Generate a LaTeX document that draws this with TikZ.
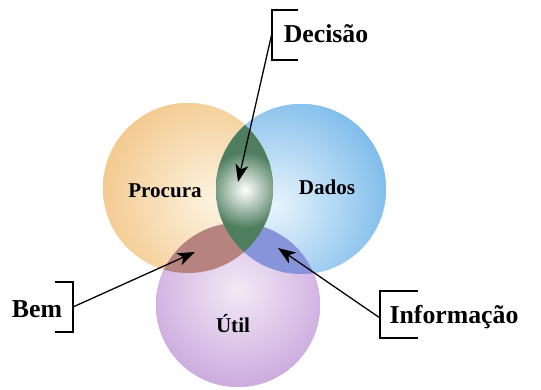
\documentclass[tikz,border=0pt]{standalone}
\usepackage{fontspec}
\setmainfont{Liberation Serif}
\usepackage{xcolor}
\usetikzlibrary{arrows.meta}

\definecolor{procuracor}{HTML}{F3C98E}
\definecolor{procuraluz}{HTML}{FDF3E0}
\definecolor{dadoscor}{HTML}{80BDEB}
\definecolor{dadosluz}{HTML}{E8F4FC}
\definecolor{utilcor}{HTML}{C9A6DD}
\definecolor{utilluz}{HTML}{F3E9F6}
\definecolor{decisaocor}{HTML}{4F7E5F}
\definecolor{bemcor}{HTML}{B7837F}
\definecolor{infocor}{HTML}{8794D9}

\begin{document}
\begin{tikzpicture}[x=0.3mm, y=0.3mm,
        lbl/.style={font=\bfseries\fontsize{18}{20}\selectfont, inner sep=0pt, anchor=base},
        tag/.style={font=\bfseries\fontsize{22}{24}\selectfont, inner sep=0pt, anchor=base},
        brk/.style={black, line width=1pt},
        seta/.style={black, line width=1.1pt, -{Stealth[length=15pt, width=11pt, inset=4pt]}}
      ]
  \useasboundingbox (0,0) rectangle (541,390);

  % circles
  \coordinate (c1) at (188,202);
  \coordinate (c2) at (301,201);
  \coordinate (c3) at (238,85);

  \fill[procuracor] (c1) circle (85);
  \begin{scope}
    \clip (c1) circle (85);
    \shade[inner color=procuraluz, outer color=procuracor] (213,190) circle (115);
  \end{scope}
  \fill[dadoscor] (c2) circle (85);
  \begin{scope}
    \clip (c2) circle (85);
    \shade[inner color=dadosluz, outer color=dadoscor] (275,185) circle (115);
  \end{scope}
  \fill[utilcor] (c3) circle (82);
  \begin{scope}
    \clip (c3) circle (82);
    \shade[inner color=utilluz, outer color=utilcor] (238,100) circle (105);
  \end{scope}

  % overlaps
  \begin{scope}
    \clip (c1) circle (85);
    \fill[bemcor] (c3) circle (82);
  \end{scope}
  \begin{scope}
    \clip (c2) circle (85);
    \fill[infocor] (c3) circle (82);
  \end{scope}
  \begin{scope}
    \clip (c1) circle (85);
    \clip (c2) circle (85);
    \fill[decisaocor] (c2) circle (85);
    \shade[inner color=white, outer color=decisaocor] (245,200) circle (38);
  \end{scope}

  % texts
  \node[lbl] (procura) at (165,192) {Procura};
  \node[lbl] (dados) at (327,195) {Dados};
  \node[lbl] (util) at (233,57) {Útil};
  \node[tag] (decisao) at (326,347) {Decisão};
  \node[tag] (bem) at (37,72) {Bem};
  \node[tag] (info) at (454,66) {Informação};

  % brackets
  \coordinate (d1) at (298,380);
  \coordinate (d2) at (272,330);
  \coordinate (dm) at (272,357);
  \coordinate (dp) at (238,208);
  \draw[brk] (d1) -| (d2) -- (d2 -| d1);

  \coordinate (b1) at (55,108);
  \coordinate (b2) at (73,58);
  \coordinate (bm) at (73,83);
  \coordinate (bp) at (195,138);
  \draw[brk] (b1) -| (b2) -- (b2 -| b1);

  \coordinate (i1) at (418,99);
  \coordinate (i2) at (380,52);
  \coordinate (im) at (380,72);
  \coordinate (ip) at (278,142);
  \draw[brk] (i1) -| (i2) -- (i2 -| i1);

  % arrows
  \draw[seta] (dm) -- (dp);
  \draw[seta] (bm) -- (bp);
  \draw[seta] (im) -- (ip);

\end{tikzpicture}
\end{document}
